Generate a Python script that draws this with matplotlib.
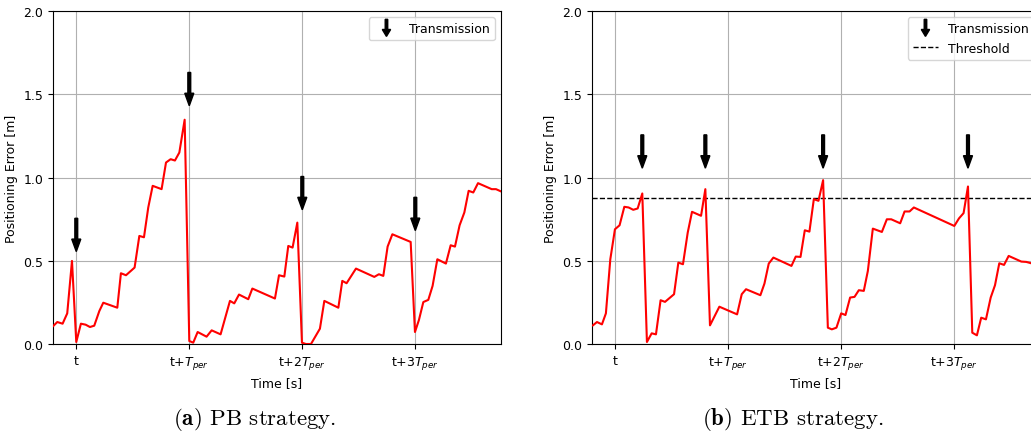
import matplotlib
matplotlib.use("Agg")
import matplotlib.pyplot as plt
import matplotlib.patches as mpatches
from matplotlib.legend_handler import HandlerPatch
from matplotlib.lines import Line2D

# time in units of T_per, t = 0
pb_time = [-0.204, -0.168, -0.121, -0.080, -0.038, 0.0, 0.041, 0.083, 0.121, 0.159,
           0.204, 0.239, 0.363, 0.395, 0.440, 0.516, 0.558, 0.599, 0.637, 0.676,
           0.755, 0.794, 0.835, 0.873, 0.912, 0.959, 1.0, 1.035, 1.074, 1.153,
           1.198, 1.277, 1.360, 1.398, 1.440, 1.522, 1.558, 1.758, 1.794, 1.841,
           1.876, 1.914, 1.956, 1.997, 2.032, 2.077, 2.156, 2.195, 2.319, 2.354,
           2.392, 2.475, 2.637, 2.678, 2.717, 2.755, 2.797, 2.959, 2.997, 3.032,
           3.071, 3.115, 3.153, 3.195, 3.271, 3.313, 3.351, 3.392, 3.434, 3.472,
           3.513, 3.555, 3.676, 3.714, 3.760]
pb_error = [0.108, 0.132, 0.122, 0.184, 0.499, 0.012, 0.122, 0.116, 0.102, 0.110,
            0.198, 0.248, 0.218, 0.425, 0.413, 0.459, 0.649, 0.641, 0.820, 0.950,
            0.930, 1.090, 1.110, 1.102, 1.150, 1.347, 0.018, 0.008, 0.072, 0.044,
            0.082, 0.058, 0.259, 0.244, 0.297, 0.269, 0.333, 0.273, 0.413, 0.405,
            0.589, 0.579, 0.729, 0.008, 0.0, 0.0, 0.092, 0.259, 0.218, 0.379,
            0.365, 0.453, 0.403, 0.419, 0.409, 0.585, 0.659, 0.613, 0.072, 0.144,
            0.252, 0.265, 0.349, 0.509, 0.483, 0.593, 0.585, 0.713, 0.790, 0.920,
            0.910, 0.966, 0.930, 0.930, 0.916]
pb_tx_time = [0.0, 1.0, 2.0, 3.0]
pb_tx_tip = [0.555, 1.431, 0.806, 0.681]

etb_time = [-0.198, -0.162, -0.118, -0.083, -0.044, -0.003, 0.038, 0.080, 0.118, 0.159,
            0.198, 0.239, 0.280, 0.322, 0.360, 0.401, 0.440, 0.520, 0.558, 0.599,
            0.641, 0.679, 0.759, 0.797, 0.838, 0.921, 1.078, 1.119, 1.157, 1.284,
            1.320, 1.358, 1.399, 1.559, 1.597, 1.639, 1.677, 1.718, 1.757, 1.798,
            1.839, 1.881, 1.916, 1.957, 1.999, 2.037, 2.078, 2.117, 2.155, 2.199,
            2.235, 2.279, 2.359, 2.403, 2.442, 2.521, 2.560, 2.604, 2.642, 3.0,
            3.041, 3.082, 3.121, 3.159, 3.200, 3.238, 3.280, 3.322, 3.360, 3.398,
            3.440, 3.481, 3.593, 3.637, 3.760]
etb_error = [0.112, 0.132, 0.118, 0.184, 0.509, 0.689, 0.713, 0.824, 0.820, 0.806,
             0.814, 0.904, 0.012, 0.064, 0.058, 0.263, 0.253, 0.299, 0.489, 0.479,
             0.669, 0.794, 0.770, 0.930, 0.112, 0.224, 0.178, 0.299, 0.329, 0.293,
             0.363, 0.483, 0.519, 0.469, 0.525, 0.523, 0.683, 0.675, 0.870, 0.860,
             0.984, 0.098, 0.088, 0.098, 0.184, 0.174, 0.279, 0.283, 0.323, 0.319,
             0.439, 0.693, 0.673, 0.749, 0.749, 0.725, 0.796, 0.796, 0.820, 0.709,
             0.754, 0.786, 0.946, 0.068, 0.052, 0.158, 0.148, 0.279, 0.353, 0.485,
             0.475, 0.529, 0.495, 0.493, 0.470]
etb_tx_time = [0.239, 0.797, 1.839, 3.121]
etb_tx_tip = [1.056, 1.056, 1.056, 1.056]
threshold = 0.875

arrow_len = 0.2
xticks = [0, 1, 2, 3]
xticklabels = ['t', 't+$T_{per}$', 't+2$T_{per}$', 't+3$T_{per}$']


def make_legend_arrow(legend, orig_handle, xdescent, ydescent, width, height, fontsize):
    return mpatches.FancyArrow(0.5 * width - xdescent, height + 3 - ydescent, 0, -(height + 6),
                               width=1.8, head_width=6, head_length=5,
                               length_includes_head=True, color='black')


def draw_panel(ax, time, err, tx_time, tx_tip, thr=None):
    ax.plot(time, err, color='red', lw=1.5, zorder=3)
    for x, tip in zip(tx_time, tx_tip):
        arr = ax.arrow(x, tip + arrow_len, 0, -arrow_len, width=0.025, head_width=0.08,
                       head_length=0.075, length_includes_head=True, color='black', zorder=4)
    handles = [arr]
    labels = ['Transmission']
    if thr is not None:
        ax.axhline(thr, color='black', ls='--', lw=1)
        handles.append(Line2D([], [], color='black', ls='--', lw=1))
        labels.append('Threshold')
    ax.legend(handles, labels, loc='upper right', fontsize=9,
              handler_map={mpatches.FancyArrow: HandlerPatch(patch_func=make_legend_arrow)})
    ax.set_xlim(-0.206, 3.758)
    ax.set_ylim(0, 2.0)
    ax.set_yticks([0, 0.5, 1.0, 1.5, 2.0])
    ax.set_xticks(xticks)
    ax.set_xticklabels(xticklabels)
    ax.tick_params(labelsize=9)
    ax.grid(True)
    ax.set_xlabel('Time [s]', fontsize=9)
    ax.set_ylabel('Positioning Error [m]', fontsize=9)


fig = plt.figure(figsize=(10.31, 4.35), dpi=100)
ax1 = fig.add_axes([0.0514, 0.2069, 0.4345, 0.7655])
ax2 = fig.add_axes([0.5742, 0.2069, 0.4345, 0.7655])

draw_panel(ax1, pb_time, pb_error, pb_tx_time, pb_tx_tip)
draw_panel(ax2, etb_time, etb_error, etb_tx_time, etb_tx_tip, thr=threshold)

fig.text(255 / 1031, 1 - 420 / 435, r'$\mathbf{(a)}$ PB strategy.', ha='center', va='center',
         fontsize=16.5, fontfamily='cmr10', math_fontfamily='cm')
fig.text(793 / 1031, 1 - 420 / 435, r'$\mathbf{(b)}$ ETB strategy.', ha='center', va='center',
         fontsize=16.5, fontfamily='cmr10', math_fontfamily='cm')

fig.savefig('out.png', dpi=100)
